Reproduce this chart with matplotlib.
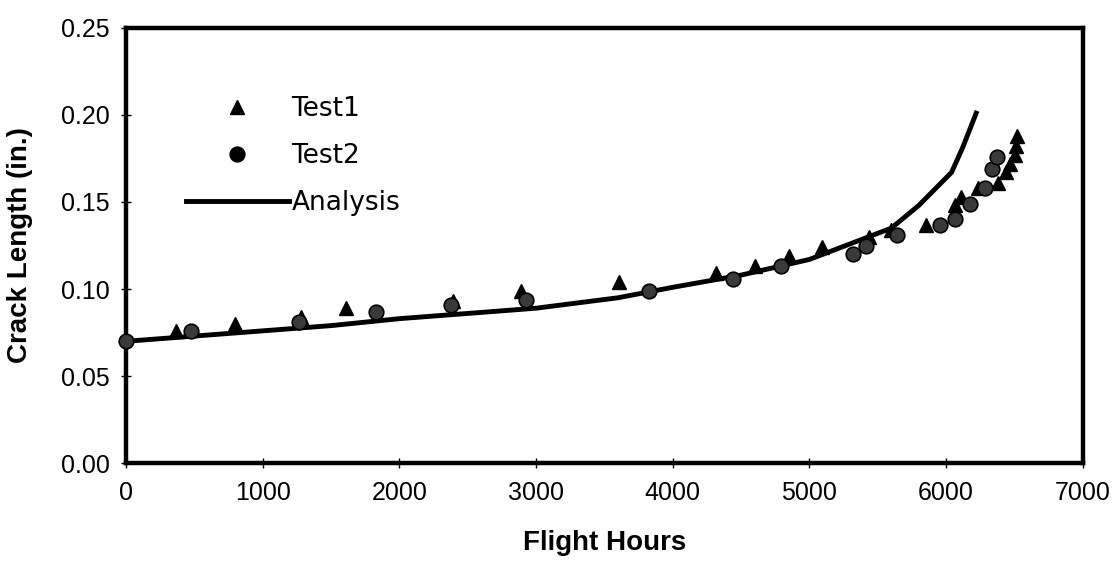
import matplotlib

matplotlib.use("Agg")
import matplotlib.pyplot as plt
from matplotlib.ticker import FormatStrFormatter


# values
TEST1_HOURS = [370, 800, 1280, 1610, 2390, 2890, 3605, 4317, 4604, 4853, 5095,
               5433, 5595, 5852, 6065, 6108, 6233, 6380, 6439, 6468, 6505, 6512, 6515]
TEST1_CRACK = [0.076, 0.080, 0.084, 0.089, 0.093, 0.099, 0.104, 0.109, 0.113, 0.119, 0.124,
               0.130, 0.134, 0.137, 0.148, 0.153, 0.158, 0.161, 0.167, 0.172, 0.177, 0.182, 0.188]

TEST2_HOURS = [0, 477, 1270, 1828, 2379, 2930, 3825, 4442, 4794, 5316, 5411,
               5639, 5954, 6065, 6175, 6285, 6336, 6373]
TEST2_CRACK = [0.070, 0.076, 0.081, 0.087, 0.091, 0.094, 0.099, 0.106, 0.113, 0.120, 0.125,
               0.131, 0.137, 0.140, 0.149, 0.158, 0.169, 0.176]

ANALYSIS_HOURS = [0, 500, 1000, 1500, 2000, 2500, 3000, 3600, 4000, 4500, 5000,
                  5300, 5600, 5800, 6040, 6120, 6175, 6220]
ANALYSIS_CRACK = [0.070, 0.073, 0.076, 0.079, 0.083, 0.086, 0.089, 0.095, 0.101, 0.108, 0.117,
                  0.126, 0.135, 0.148, 0.167, 0.181, 0.192, 0.201]

X_TICKS = [0, 1000, 2000, 3000, 4000, 5000, 6000, 7000]
Y_TICKS = [0.00, 0.05, 0.10, 0.15, 0.20, 0.25]


plt.rcParams.update({
    "font.family": ["Liberation Sans", "DejaVu Sans"],
    "font.size": 18,
})

fig = plt.figure(figsize=(11.14, 5.67), dpi=100)
ax = fig.add_axes([0.113, 0.183, 0.859, 0.768])

ax.plot(ANALYSIS_HOURS, ANALYSIS_CRACK, color="black", linewidth=3.5,
        solid_joinstyle="miter", label="Analysis", zorder=2)
ax.plot(TEST1_HOURS, TEST1_CRACK, linestyle="none", marker="^", markersize=10,
        markerfacecolor="black", markeredgecolor="black", label="Test1",
        clip_on=False, zorder=3)
ax.plot(TEST2_HOURS, TEST2_CRACK, linestyle="none", marker="o", markersize=10.5,
        markerfacecolor="#3a3a3a", markeredgecolor="black", markeredgewidth=1.2,
        label="Test2", clip_on=False, zorder=3)

ax.set_xlim(0, 7000)
ax.set_ylim(0, 0.25)
ax.set_xticks(X_TICKS)
ax.set_yticks(Y_TICKS)
ax.yaxis.set_major_formatter(FormatStrFormatter("%.2f"))

for spine in ax.spines.values():
    spine.set_linewidth(3.2)
    spine.set_color("black")
ax.tick_params(axis="both", direction="inout", length=7, width=1.0, labelsize=18)
ax.tick_params(axis="x", pad=9)
ax.tick_params(axis="y", pad=8)

ax.set_xlabel("Flight Hours", fontsize=20, fontweight="bold", labelpad=18)
ax.set_ylabel("Crack Length (in.)", fontsize=20, fontweight="bold", labelpad=20)

handles, labels = ax.get_legend_handles_labels()
order = [1, 2, 0]
leg = ax.legend([handles[i] for i in order], [labels[i] for i in order],
                loc="upper left", bbox_to_anchor=(0.038, 0.898), frameon=False,
                handlelength=3.9, handletextpad=0.1, labelspacing=0.8,
                numpoints=1, prop={"family": "DejaVu Sans", "size": 19})
leg.legend_handles[1].set_markerfacecolor("black")

fig.savefig("out.png", dpi=100)
